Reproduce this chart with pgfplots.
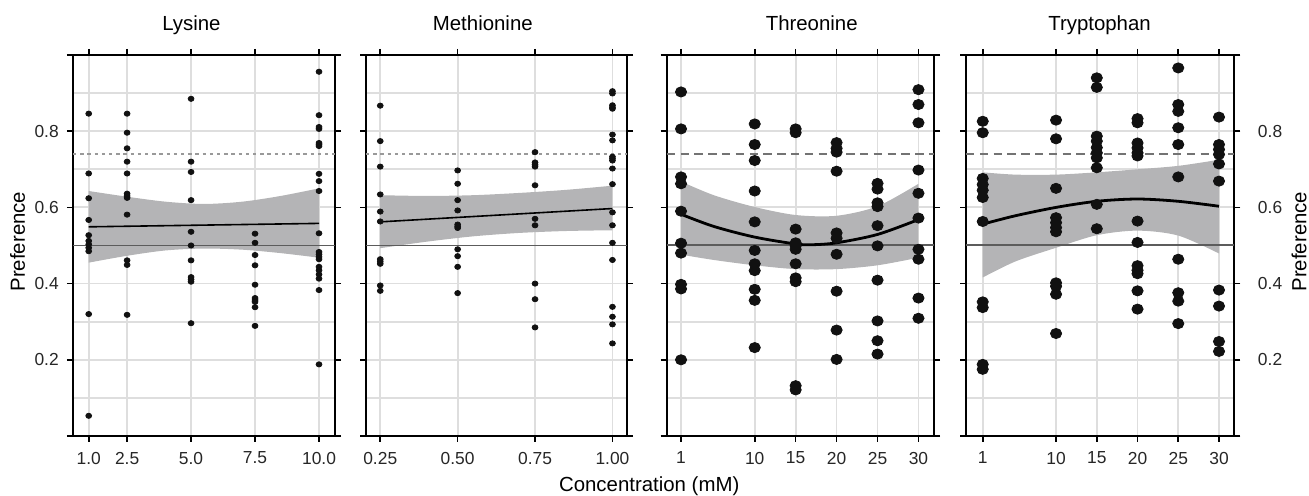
\documentclass[border=0pt]{standalone}
\usepackage{fontspec}
\setmainfont{Liberation Sans}
\usepackage{pgfplots}
\pgfplotsset{compat=1.18}
\usepgfplotslibrary{fillbetween}

\definecolor{band}{HTML}{B4B4B6}
\definecolor{gridc}{HTML}{DEDEDE}
\definecolor{refl}{HTML}{5C5C5C}
\definecolor{dotc}{HTML}{111111}

\pgfplotsset{
  panel/.style={
    scale only axis, anchor=south west, height=190.5pt,
    ymin=0, ymax=1,
    ytick={0,0.2,0.4,0.6,0.8,1},
    minor ytick={0.1,0.3,0.5,0.7,0.9},
    xmajorgrids, ymajorgrids, yminorgrids,
    major grid style={gridc, line width=0.9pt},
    minor grid style={gridc, line width=0.9pt},
    tick align=outside,
    major tick length=3pt, minor tick length=0pt,
    xtick pos=both, ytick pos=both,
    xticklabel pos=left,
    axis line style={line width=0.9pt, black},
    major tick style={line width=0.8pt, black},
    tick label style={font=\fontsize{8.7}{10}\selectfont, color=black!85},
    xticklabel style={yshift=-1.4pt},
    /pgf/number format/assume math mode=true,
  },
  smalldot/.style={only marks, mark=*, mark size=1.3pt, color=dotc,
    mark options={xscale=1.12, draw=none, fill=dotc}},
  bigdot/.style={only marks, mark=*, mark size=2.55pt, color=dotc,
    mark options={xscale=1.1, draw=none, fill=dotc}},
  thinfit/.style={black, line width=0.8pt},
  thickfit/.style={black, line width=1.4pt, smooth},
}

\begin{document}
\begin{tikzpicture}

% ---------------- Lysine
\begin{axis}[panel, at={(36.5pt,30pt)}, width=131pt,
  xmin=0.386, xmax=10.625,
  xtick={1,2.5,5,7.5,10}, xticklabels={1.0,2.5,5.0,7.5,10.0},
  yticklabel pos=left, ytick pos=both,
  yticklabels={{},0.2,0.4,0.6,0.8,{}},
  yticklabel style={xshift=-0.6pt}]
\addplot[draw=none, smooth, name path=u1] coordinates {(1,0.643)(2.5,0.628)(4,0.615)(5.5,0.609)(7,0.615)(8.5,0.630)(10,0.650)};
\addplot[draw=none, smooth, name path=l1] coordinates {(1,0.455)(2.5,0.473)(4,0.487)(5.5,0.492)(7,0.489)(8.5,0.480)(10,0.468)};
\addplot[band, draw=none] fill between[of=u1 and l1];
\addplot[refl, line width=0.8pt] coordinates {(0.386,0.5)(10.625,0.5)};
\addplot[black!40, line width=0.9pt, dash pattern=on 1.7pt off 1.9pt] coordinates {(0.386,0.74)(10.625,0.74)};
\addplot[thinfit] coordinates {(1,0.549)(10,0.558)};
\addplot[smalldot] coordinates {
(1,0.846)(1,0.689)(1,0.624)(1,0.567)(1,0.527)(1,0.512)(1,0.503)(1,0.494)(1,0.485)(1,0.320)(1,0.053)
(2.5,0.846)(2.5,0.796)(2.5,0.755)(2.5,0.720)(2.5,0.689)(2.5,0.636)(2.5,0.630)(2.5,0.625)(2.5,0.581)(2.5,0.461)(2.5,0.449)(2.5,0.318)
(5,0.885)(5,0.720)(5,0.693)(5,0.619)(5,0.536)(5,0.500)(5,0.461)(5,0.417)(5,0.411)(5,0.405)(5,0.296)
(7.5,0.531)(7.5,0.507)(7.5,0.475)(7.5,0.448)(7.5,0.397)(7.5,0.362)(7.5,0.357)(7.5,0.352)(7.5,0.338)(7.5,0.289)
(10,0.956)(10,0.842)(10,0.811)(10,0.806)(10,0.769)(10,0.765)(10,0.761)(10,0.688)(10,0.669)(10,0.643)(10,0.532)
(10,0.483)(10,0.477)(10,0.470)(10,0.464)(10,0.444)(10,0.435)(10,0.424)(10,0.413)(10,0.383)(10,0.188)};
\end{axis}

% ---------------- Methionine
\begin{axis}[panel, at={(183pt,30pt)}, width=130.5pt,
  xmin=0.204, xmax=1.047,
  xtick={0.25,0.5,0.75,1}, xticklabels={0.25,0.50,0.75,1.00},
  yticklabels={}]
\addplot[draw=none, smooth, name path=u2] coordinates {(0.25,0.632)(0.4,0.630)(0.55,0.632)(0.7,0.638)(0.85,0.646)(1,0.657)};
\addplot[draw=none, smooth, name path=l2] coordinates {(0.25,0.493)(0.4,0.510)(0.55,0.524)(0.7,0.533)(0.85,0.538)(1,0.540)};
\addplot[band, draw=none] fill between[of=u2 and l2];
\addplot[refl, line width=0.8pt] coordinates {(0.204,0.5)(1.047,0.5)};
\addplot[black!40, line width=0.9pt, dash pattern=on 1.7pt off 1.9pt] coordinates {(0.204,0.74)(1.047,0.74)};
\addplot[thinfit] coordinates {(0.25,0.562)(1,0.597)};
\addplot[smalldot] coordinates {
(0.25,0.867)(0.25,0.774)(0.25,0.707)(0.25,0.634)(0.25,0.589)(0.25,0.563)(0.25,0.464)(0.25,0.458)(0.25,0.452)(0.25,0.395)(0.25,0.381)
(0.5,0.697)(0.5,0.662)(0.5,0.619)(0.5,0.592)(0.5,0.555)(0.5,0.550)(0.5,0.546)(0.5,0.490)(0.5,0.472)(0.5,0.444)(0.5,0.375)
(0.75,0.745)(0.75,0.718)(0.75,0.712)(0.75,0.707)(0.75,0.658)(0.75,0.570)(0.75,0.553)(0.75,0.400)(0.75,0.359)(0.75,0.285)
(1,0.905)(1,0.899)(1,0.868)(1,0.863)(1,0.859)(1,0.791)(1,0.776)(1,0.733)(1,0.728)(1,0.723)(1,0.702)(1,0.661)
(1,0.587)(1,0.553)(1,0.507)(1,0.462)(1,0.339)(1,0.313)(1,0.293)(1,0.243)};
\end{axis}

% ---------------- Threonine
\begin{axis}[panel, at={(333.35pt,30pt)}, width=133.65pt,
  xmin=-0.75, xmax=31.9,
  xtick={1,10,15,20,25,30}, xticklabels={1,10,15,20,25,30},
  yticklabels={}]
\addplot[draw=none, smooth, name path=u3] coordinates {(1,0.668)(5,0.632)(10,0.601)(15,0.580)(20,0.578)(25,0.603)(30,0.662)};
\addplot[draw=none, smooth, name path=l3] coordinates {(1,0.476)(5,0.462)(10,0.448)(15,0.438)(20,0.438)(25,0.448)(30,0.468)};
\addplot[band, draw=none] fill between[of=u3 and l3];
\addplot[refl, line width=1pt] coordinates {(-0.75,0.5)(31.9,0.5)};
\addplot[black!55, line width=1.1pt, dash pattern=on 4.2pt off 2.7pt] coordinates {(-0.75,0.74)(31.9,0.74)};
\addplot[thickfit] coordinates {(1,0.582)(5,0.550)(10,0.522)(15,0.504)(17,0.502)(20,0.507)(25,0.529)(30,0.568)};
\addplot[bigdot] coordinates {
(1,0.903)(1,0.806)(1,0.680)(1,0.662)(1,0.590)(1,0.506)(1,0.480)(1,0.398)(1,0.386)(1,0.200)
(10,0.819)(10,0.765)(10,0.723)(10,0.643)(10,0.562)(10,0.487)(10,0.452)(10,0.434)(10,0.385)(10,0.356)(10,0.232)
(15,0.806)(15,0.796)(15,0.543)(15,0.507)(15,0.499)(15,0.490)(15,0.452)(15,0.415)(15,0.405)(15,0.132)(15,0.121)
(20,0.770)(20,0.755)(20,0.745)(20,0.695)(20,0.533)(20,0.519)(20,0.477)(20,0.380)(20,0.278)(20,0.201)
(25,0.663)(25,0.648)(25,0.612)(25,0.602)(25,0.552)(25,0.499)(25,0.409)(25,0.302)(25,0.250)(25,0.215)
(30,0.909)(30,0.870)(30,0.822)(30,0.698)(30,0.637)(30,0.572)(30,0.490)(30,0.464)(30,0.362)(30,0.309)};
\end{axis}

% ---------------- Tryptophan
\begin{axis}[panel, at={(483pt,30pt)}, width=134.15pt,
  xmin=-1.05, xmax=31.88,
  xtick={1,10,15,20,25,30}, xticklabels={1,10,15,20,25,30},
  yticklabel pos=right, ytick pos=both,
  yticklabels={{},0.2,0.4,0.6,0.8,{}},
  yticklabel style={xshift=5.3pt}]
\addplot[draw=none, smooth, name path=u4] coordinates {(1,0.692)(5,0.686)(10,0.686)(15,0.692)(20,0.700)(25,0.709)(30,0.725)};
\addplot[draw=none, smooth, name path=l4] coordinates {(1,0.416)(5,0.458)(10,0.494)(15,0.527)(20,0.539)(25,0.526)(30,0.479)};
\addplot[band, draw=none] fill between[of=u4 and l4];
\addplot[refl, line width=1pt] coordinates {(-1.05,0.5)(31.88,0.5)};
\addplot[black!55, line width=1.1pt, dash pattern=on 4.2pt off 2.7pt] coordinates {(-1.05,0.74)(31.88,0.74)};
\addplot[thickfit] coordinates {(1,0.556)(5,0.578)(10,0.600)(15,0.616)(20,0.622)(25,0.616)(30,0.603)};
\addplot[bigdot] coordinates {
(1,0.826)(1,0.796)(1,0.676)(1,0.660)(1,0.645)(1,0.626)(1,0.563)(1,0.352)(1,0.337)(1,0.188)(1,0.175)
(10,0.829)(10,0.780)(10,0.650)(10,0.573)(10,0.560)(10,0.547)(10,0.536)(10,0.402)(10,0.393)(10,0.372)(10,0.269)
(15,0.940)(15,0.915)(15,0.787)(15,0.774)(15,0.757)(15,0.743)(15,0.730)(15,0.704)(15,0.608)(15,0.544)
(20,0.833)(20,0.822)(20,0.769)(20,0.756)(20,0.743)(20,0.735)(20,0.564)(20,0.508)(20,0.447)(20,0.435)(20,0.426)(20,0.381)(20,0.333)
(25,0.966)(25,0.870)(25,0.852)(25,0.809)(25,0.765)(25,0.680)(25,0.464)(25,0.376)(25,0.354)(25,0.295)
(30,0.837)(30,0.765)(30,0.752)(30,0.739)(30,0.714)(30,0.669)(30,0.383)(30,0.341)(30,0.248)(30,0.222)};
\end{axis}

% titles and labels
\begin{scope}[every node/.style={font=\fontsize{10.2}{12}\selectfont, inner sep=0pt}]
\node[anchor=base] at (95.7pt,232.75pt) {Lysine};
\node[anchor=base] at (241.4pt,232.75pt) {Methionine};
\node[anchor=base] at (405.85pt,232.75pt) {Threonine};
\node[anchor=base] at (549.75pt,232.75pt) {Tryptophan};
\node[anchor=base] at (324.6pt,2.2pt) {Concentration (mM)};
\node[rotate=90] at (8.75pt,127.2pt) {Preference};
\node[rotate=90] at (649.5pt,127.2pt) {Preference};
\end{scope}
\path (0,0) rectangle (654.5pt,248pt);
\end{tikzpicture}
\end{document}
